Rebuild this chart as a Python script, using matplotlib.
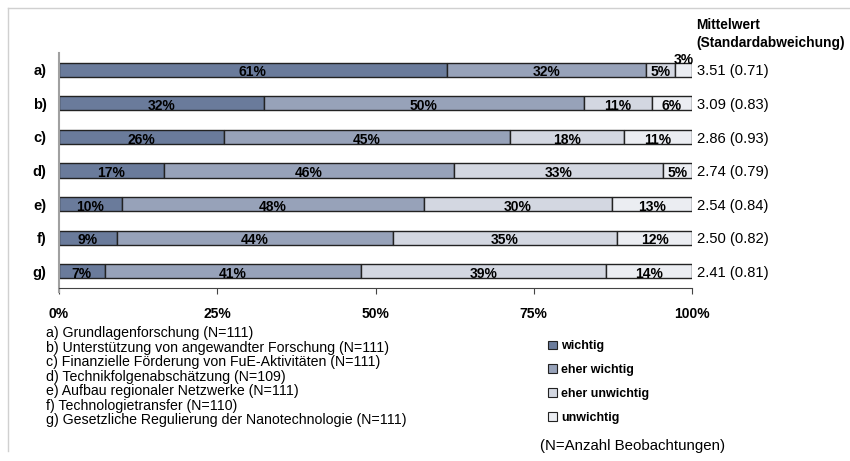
import numpy as np
import matplotlib.pyplot as plt
from matplotlib.patches import Rectangle
from matplotlib.lines import Line2D

plt.rcParams['font.family'] = ['Liberation Sans', 'DejaVu Sans']

# Data (shares in percent)
rows = ['a)', 'b)', 'c)', 'd)', 'e)', 'f)', 'g)']
wichtig = [61.26, 32.43, 26.13, 16.51, 9.91, 9.09, 7.21]
eher_wichtig = [31.53, 50.45, 45.05, 45.87, 47.75, 43.64, 40.54]
eher_unwichtig = [4.50, 10.81, 18.02, 33.03, 29.73, 35.45, 38.74]
unwichtig = [2.70, 6.31, 10.81, 4.59, 12.61, 11.82, 13.51]
means = ['3.51 (0.71)', '3.09 (0.83)', '2.86 (0.93)', '2.74 (0.79)',
         '2.54 (0.84)', '2.50 (0.82)', '2.41 (0.81)']
descriptions = [
    'a) Grundlagenforschung (N=111)',
    'b) Unterstützung von angewandter Forschung (N=111)',
    'c) Finanzielle Förderung von FuE-Aktivitäten (N=111)',
    'd) Technikfolgenabschätzung (N=109)',
    'e) Aufbau regionaler Netzwerke (N=111)',
    'f) Technologietransfer (N=110)',
    'g) Gesetzliche Regulierung der Nanotechnologie (N=111)',
]
categories = ['wichtig', 'eher wichtig', 'eher unwichtig', 'unwichtig']
colors = ['#6A7B9B', '#97A2B9', '#D3D7E1', '#EBEDF2']
xticks = [0, 25, 50, 75, 100]

series = [wichtig, eher_wichtig, eher_unwichtig, unwichtig]

fig = plt.figure(figsize=(8.5, 4.61), dpi=100)
ax = fig.add_axes([59 / 850, 1 - 288 / 461, 633 / 850, 235 / 461])

y = np.arange(len(rows))
left = np.zeros(len(rows))
for vals, col in zip(series, colors):
    vals = np.array(vals)
    ax.barh(y, vals, left=left, height=0.42, color=col, edgecolor='#222222',
            linewidth=1.0)
    for i, v in enumerate(vals):
        lab = f'{int(v + 0.5)}%'
        if v < 4:
            ax.text(left[i] + v / 2, y[i] - 0.3, lab, ha='center', va='center',
                    fontsize=10, fontweight='bold')
        else:
            ax.text(left[i] + v / 2, y[i] + 0.08, lab, ha='center', va='center',
                    fontsize=10, fontweight='bold')
    left += vals

for i, m in enumerate(means):
    ax.text(100.8, y[i] + 0.05, m, ha='left', va='center', fontsize=10.6)

ax.set_xlim(0, 100)
ax.set_ylim(len(rows) - 0.5, -0.5)
ax.set_yticks(y)
ax.set_yticklabels(rows, fontweight='bold', fontsize=10.5)
ax.tick_params(axis='y', length=0, pad=9)
ax.set_xticks(xticks)
ax.set_xticklabels([f'{t}%' for t in xticks], fontweight='bold', fontsize=10)
ax.tick_params(axis='x', length=4, color='#444444', pad=10)

ax.spines['top'].set_visible(False)
ax.spines['right'].set_visible(False)
ax.spines['bottom'].set_color('#444444')
ax.spines['left'].set_color('#A0A0A0')
ax.spines['left'].set_linewidth(1.5)
ax.spines['left'].set_bounds(len(rows) - 0.38, -0.5)

fig.text(696 / 850, 1 - 25 / 461, 'Mittelwert', ha='left', va='center',
         fontsize=9.9, fontweight='bold')
fig.text(696 / 850, 1 - 43 / 461, '(Standardabweichung)', ha='left',
         va='center', fontsize=9.9, fontweight='bold')

# descriptions of rows
for k, d in enumerate(descriptions):
    fig.text(46 / 850, 1 - (333 + k * 14.5) / 461, d, ha='left', va='center',
             fontsize=10.2)

# legend
handles = [Rectangle((0, 0), 1, 1, facecolor=c, edgecolor='#222222', lw=0.8)
           for c in colors]
leg = fig.legend(handles, categories, loc='upper left',
                 bbox_to_anchor=(537 / 850, 1 - 329 / 461), frameon=False,
                 handlelength=0.7, handleheight=0.7, handletextpad=0.3,
                 labelspacing=0.95, prop={'weight': 'bold', 'size': 9})
fig.text(540 / 850, 1 - 446 / 461, '(N=Anzahl Beobachtungen)', ha='left',
         va='center', fontsize=10.8)

# light frame lines at top and left
fig.add_artist(Line2D([8 / 850, 1], [1 - 8 / 461, 1 - 8 / 461],
                      color='#D0D0D0', lw=1))
fig.add_artist(Line2D([8 / 850, 8 / 850], [1 - 8 / 461, 1 - 451 / 461],
                      color='#D0D0D0', lw=1))

fig.savefig('out.png', dpi=100)
